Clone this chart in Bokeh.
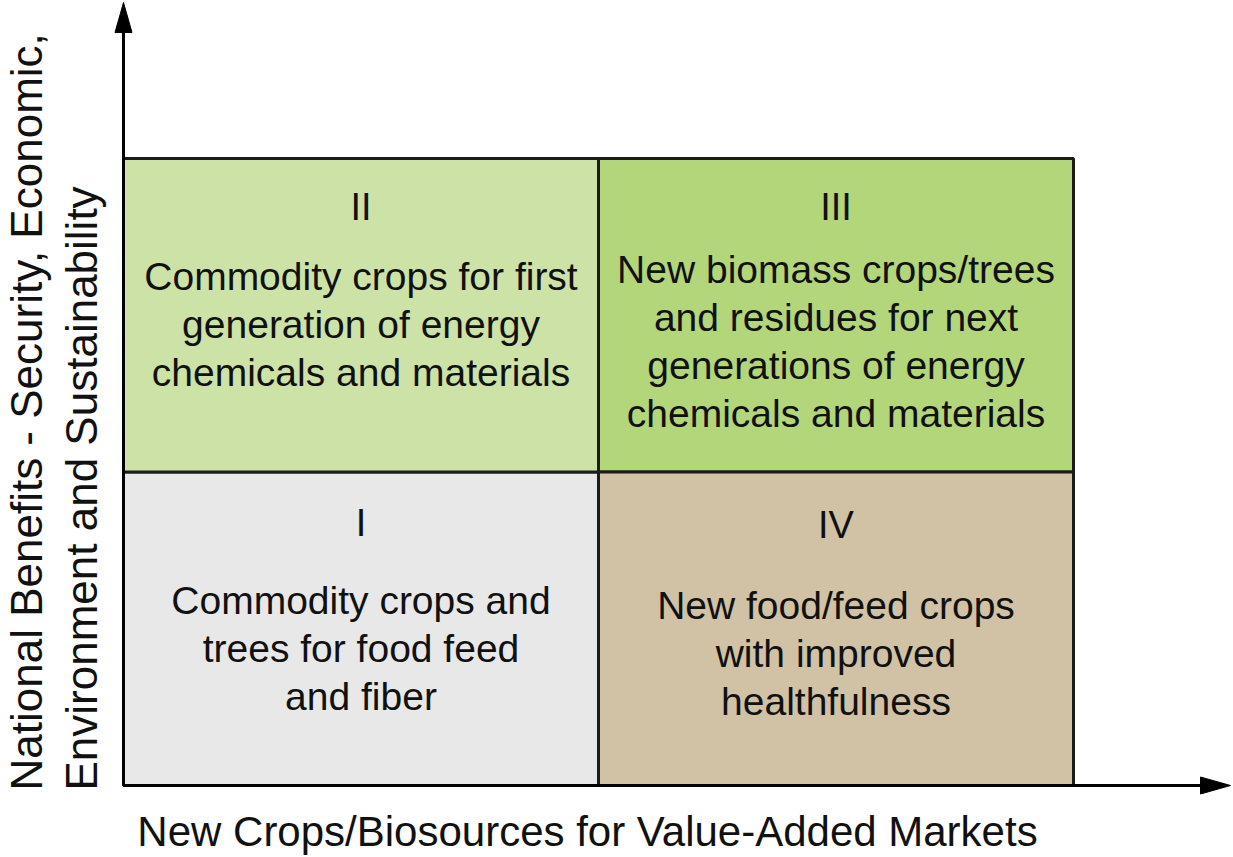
import math
from bokeh.plotting import figure
from bokeh.models import Range1d, ColumnDataSource
from bokeh.core.properties import value
from bokeh.embed import file_html
from bokeh.resources import INLINE

# ---------------- data ----------------
numerals = ["I", "II", "III", "IV"]
descriptions = [
    ["Commodity crops and", "trees for food feed", "and fiber"],
    ["Commodity crops for first", "generation of energy", "chemicals and materials"],
    ["New biomass crops/trees", "and residues for next", "generations of energy", "chemicals and materials"],
    ["New food/feed crops", "with improved", "healthfulness"],
]
quad_col = [0, 0, 1, 1]   # 0 = current, 1 = new crops
quad_row = [0, 1, 1, 0]   # 0 = lower, 1 = higher national benefits
x_label = "New Crops/Biosources for Value-Added Markets"
y_label_lines = ["National Benefits - Security, Economic,", "Environment and Sustainability"]

# ---------------- styles / layout ----------------
fill_colors = ["#e8e8e8", "#cde2a7", "#b3d67b", "#d1c1a5"]
FONT = value("Liberation Sans")
W, H = 1233, 855
OX, OY = 123, 785          # screen position of origin
UX, UY = 475.0, 313.5      # pixels per data unit
BASE_FIX = 0.36            # renderer draws "alphabetic" text this many em lower
numeral_base_px = [65, 62, 62, 67]      # below quadrant top
desc_first_px = [143, 132, 125, 148]    # first baseline below quadrant top
LINE_GAP = 48
NUM_FS, DESC_FS, XL_FS, YL_FS = 38, 39, 42, 44

def dx(px):
    return px / UX

def dy(px):
    return px / UY

def sx(screen_x):
    return (screen_x - OX) / UX

def sy(screen_y):
    return (OY - screen_y) / UY

p = figure(width=W, height=H,
           x_range=Range1d(sx(0), sx(W)), y_range=Range1d(sy(H), sy(0)),
           output_backend="svg", toolbar_location=None, min_border=0)
p.margin = (0, 0, 0, 0)
p.axis.visible = False
p.grid.visible = False
p.outline_line_color = None
p.background_fill_color = "white"
p.border_fill_color = "white"

# quadrants
qsrc = ColumnDataSource(dict(
    left=[c for c in quad_col], right=[c + 1 for c in quad_col],
    bottom=[r for r in quad_row], top=[r + 1 for r in quad_row],
    color=fill_colors))
p.quad(left="left", right="right", bottom="bottom", top="top", source=qsrc,
       fill_color="color", line_color="#1c1c1c", line_width=3)

# numerals
nsrc = ColumnDataSource(dict(
    x=[c + 0.5 for c in quad_col],
    y=[r + 1 - dy(o - BASE_FIX * NUM_FS) for r, o in zip(quad_row, numeral_base_px)],
    t=numerals))
p.text(x="x", y="y", text="t", source=nsrc, text_font=FONT, text_font_size=f"{NUM_FS}px",
       text_align="center", text_baseline="alphabetic", text_color="#111111")

# descriptions
lx, ly, lt = [], [], []
for c, r, lines, o in zip(quad_col, quad_row, descriptions, desc_first_px):
    for i, line in enumerate(lines):
        lx.append(c + 0.5)
        ly.append(r + 1 - dy(o + i * LINE_GAP - BASE_FIX * DESC_FS))
        lt.append(line)
p.text(x=lx, y=ly, text=lt, text_font=FONT, text_font_size=f"{DESC_FS}px",
       text_align="center", text_baseline="alphabetic", text_color="#111111")

# axes with arrows
HEAD_L, HEAD_W = 30, 17
vt = sy(2)      # vertical arrow tip
ht = sx(1230)   # horizontal arrow tip
p.segment(x0=[0, 0], y0=[0, 0], x1=[0, ht - dx(HEAD_L - 2)], y1=[vt - dy(HEAD_L - 2), 0],
          line_color="black", line_width=3)
p.patches(xs=[[0, -dx(HEAD_W / 2), dx(HEAD_W / 2)],
              [ht, ht - dx(HEAD_L), ht - dx(HEAD_L)]],
          ys=[[vt, vt - dy(HEAD_L), vt - dy(HEAD_L)],
              [0, dy(HEAD_W / 2), -dy(HEAD_W / 2)]],
          fill_color="black", line_color="black", line_width=1)

# axis labels
p.text(x=[sx(587)], y=[sy(846 - BASE_FIX * XL_FS)], text=[x_label], text_font=FONT,
       text_font_size=f"{XL_FS}px",
       text_align="center", text_baseline="alphabetic", text_color="#111111")
p.text(x=[sx(42 - BASE_FIX * YL_FS), sx(97 - BASE_FIX * YL_FS)], y=[sy(790), sy(790)],
       text=y_label_lines, angle=math.pi / 2,
       text_font=FONT, text_font_size=f"{YL_FS}px", text_align="left",
       text_baseline="alphabetic", text_color="#111111")

open("out.html", "w").write(file_html(p, INLINE))
